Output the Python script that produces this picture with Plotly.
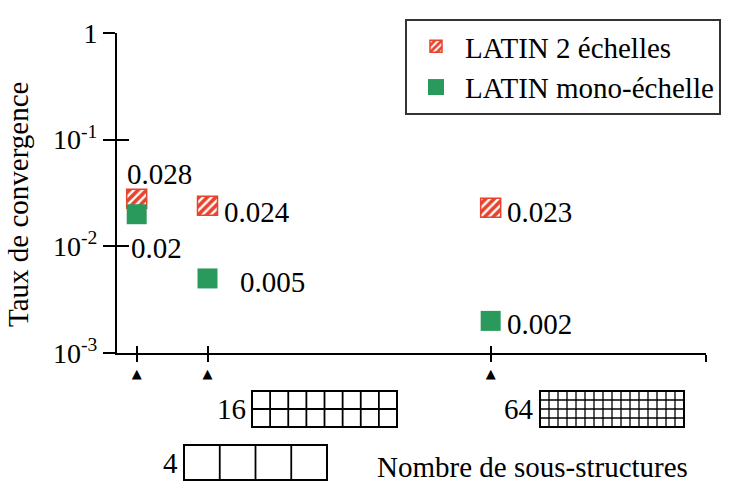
import math
import plotly.graph_objects as go

# ---------------- data ----------------
substructures = [4, 16, 64]
latin_2_echelles = [0.028, 0.024, 0.023]
latin_mono_echelle = [0.02, 0.005, 0.002]
series_names = ["LATIN 2 échelles", "LATIN mono-échelle"]
ytick_vals = [1e-3, 1e-2, 1e-1, 1]
ytick_text = ["10<sup>-3</sup>", "10<sup>-2</sup>", "10<sup>-1</sup>", "1"]
x_title = "Nombre de sous-structures"
y_title = "Taux de convergence"

# ---------------- style / layout ----------------
W, H = 731, 489
ML, MR, MT, MB = 117, 25, 33, 136
PW, PH = W - ML - MR, H - MT - MB
FONT = "Liberation Serif"
FS = 29
RED = "#e8432c"
GREEN = "#2a9a5c"
XRANGE = [0.66, 100.5]


def fx(px):
    return (px - ML) / PW


def fy(py):
    return (H - MB - py) / PH


fig = go.Figure()

# hatched squares (bars with pattern, one decade = PH/3 px)
dec_px = PH / 3.0
half = 10 ** ((19 / dec_px) / 2)
base = [v / half for v in latin_2_echelles]
height = [v * half - v / half for v in latin_2_echelles]
xunit = PW / (XRANGE[1] - XRANGE[0])
fig.add_trace(go.Bar(
    x=substructures, y=height, base=base, width=20 / xunit,
    name=series_names[0],
    marker=dict(color="white", line=dict(color=RED, width=1.5),
                pattern=dict(shape="/", fgcolor=RED, bgcolor="white",
                             size=6, solidity=0.6, fillmode="replace")),
))
fig.add_trace(go.Scatter(
    x=substructures, y=latin_mono_echelle, mode="markers",
    name=series_names[1],
    marker=dict(symbol="square", size=20, color=GREEN, line=dict(width=0)),
))
# invisible trace for overlay axes (crossing ticks)
fig.add_trace(go.Scatter(x=[None], y=[None], xaxis="x2", yaxis="y2",
                         showlegend=False, hoverinfo="skip"))

# value labels: offsets per point
red_offsets = [(23, 25, "center"), (14, -6, "left"), (14, -4, "left")]
green_offsets = [(-8, -34, "left"), (30, -4, "left"), (14, -3, "left")]
for xs, vals, offs in [(substructures, latin_2_echelles, red_offsets),
                       (substructures, latin_mono_echelle, green_offsets)]:
    for xv, v, (dx, dy, anc) in zip(xs, vals, offs):
        fig.add_annotation(x=xv, y=math.log10(v), xref="x", yref="y",
                           text=f"{v:g}", showarrow=False, xanchor=anc,
                           yanchor="middle", xshift=dx, yshift=dy,
                           font=dict(size=FS, family=FONT, color="black"))

# substructure pictograms (layout positions in px)
box_layout = {4: (184, 445, 143, 35), 16: (252, 391, 145, 36), 64: (540, 391, 144, 36)}
for n in substructures:
    left, top, bw, bh = box_layout[n]
    cols = int(round(2 * math.sqrt(n)))
    rows = int(round(math.sqrt(n) / 2))
    lw_in = 1.3 if n == 64 else 1.8
    for c in range(1, cols):
        xx = left + bw * c / cols
        fig.add_shape(type="line", xref="paper", yref="paper",
                      x0=fx(xx), x1=fx(xx), y0=fy(top), y1=fy(top + bh),
                      line=dict(color="black", width=lw_in))
    for r in range(1, rows):
        yy = top + bh * r / rows
        fig.add_shape(type="line", xref="paper", yref="paper",
                      x0=fx(left), x1=fx(left + bw), y0=fy(yy), y1=fy(yy),
                      line=dict(color="black", width=lw_in))
    fig.add_shape(type="rect", xref="paper", yref="paper",
                  x0=fx(left), x1=fx(left + bw), y0=fy(top), y1=fy(top + bh),
                  line=dict(color="black", width=2))
    fig.add_annotation(x=fx(left - 4), y=fy(top + bh / 2), xref="paper", yref="paper",
                       text=str(n), showarrow=False, xanchor="right", yanchor="middle",
                       font=dict(size=FS, family=FONT, color="black"))

fig.add_annotation(x=1, y=0, xref="paper", yref="paper", xshift=-16, yshift=-114,
                   text=x_title, showarrow=False, xanchor="right", yanchor="middle",
                   font=dict(size=FS, family=FONT, color="black"))
fig.add_annotation(x=0, y=0.5, xref="paper", yref="paper", xshift=-99, yshift=-12,
                   text=y_title, showarrow=False, textangle=-90,
                   xanchor="center", yanchor="middle",
                   font=dict(size=FS, family=FONT, color="black"))

axis_common = dict(showgrid=False, zeroline=False, tickcolor="black", tickwidth=2)
fig.update_layout(
    width=W, height=H,
    margin=dict(l=ML, r=MR, t=MT, b=MB, autoexpand=False),
    paper_bgcolor="white", plot_bgcolor="white",
    font=dict(family=FONT, size=FS, color="black"),
    showlegend=True,
    legend=dict(x=fx(405), y=fy(19), xanchor="left", yanchor="top",
                bordercolor="#333", borderwidth=2, bgcolor="white",
                itemwidth=48,
                font=dict(size=FS, family=FONT, color="black")),
    xaxis=dict(range=XRANGE, tickvals=substructures + [XRANGE[1]],
               ticktext=["▲"] * len(substructures) + [""],
               tickfont=dict(size=13, color="black", family="DejaVu Sans"),
               ticks="outside", ticklen=7, showline=True, linecolor="black",
               linewidth=2, **axis_common),
    yaxis=dict(type="log", range=[-3, 0], tickvals=ytick_vals, ticktext=ytick_text,
               ticks="outside", ticklen=12, showline=True, linecolor="black",
               linewidth=2, tickfont=dict(size=28, family=FONT, color="black"),
               **axis_common),
    xaxis2=dict(overlaying="x", anchor="y2", range=XRANGE,
                tickvals=substructures + [XRANGE[1]], ticks="inside", ticklen=7,
                showticklabels=False, showline=False, side="bottom", **axis_common),
    yaxis2=dict(overlaying="y", anchor="x2", type="log", range=[-3, 0],
                tickvals=ytick_vals, ticks="inside", ticklen=12,
                showticklabels=False, showline=False, side="left", **axis_common),
)

fig.write_html("out.html")
